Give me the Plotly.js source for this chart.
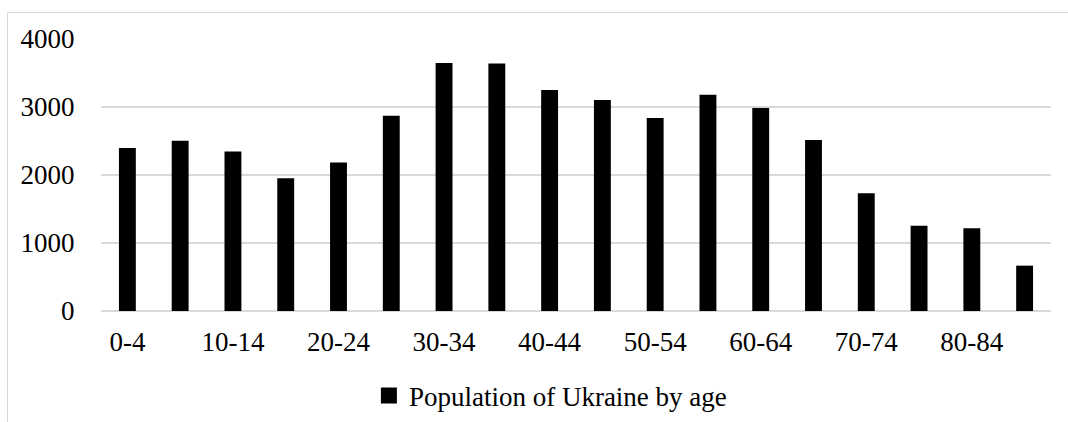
<!DOCTYPE html>
<html>
<head>
<meta charset="utf-8">
<script src="https://cdn.plot.ly/plotly-3.0.1.min.js"></script>
<style>
  html, body { margin: 0; padding: 0; background: #fff; overflow: hidden; }
  #chart { width: 1068px; height: 422px; position: relative; }
  #frame { position: absolute; left: 7px; top: 12px; width: 1200px; height: 600px;
           border: 1px solid #d9d9d9; pointer-events: none; }
</style>
</head>
<body>
<div id="chart"></div>
<div id="frame"></div>
<script>
const ageGroups = ["0-4","5-9","10-14","15-19","20-24","25-29","30-34","35-39","40-44",
                   "45-49","50-54","55-59","60-64","65-69","70-74","75-79","80-84","85+"];
const population = [2396, 2504, 2346, 1954, 2184, 2872, 3648, 3638, 3250,
                    3103, 2838, 3181, 2985, 2514, 1733, 1252, 1218, 667];
const seriesName = "Population of Ukraine by age";
const shownTicks = ageGroups.filter((_, i) => i % 2 === 0);

const font = { family: "Liberation Serif", size: 27, color: "#000" };

Plotly.newPlot("chart", [{
  type: "bar",
  x: ageGroups,
  y: population,
  name: seriesName,
  marker: { color: "#000" },
  showlegend: false,
  hoverinfo: "x+y"
}, {
  type: "scatter",
  mode: "markers",
  x: [null], y: [null],
  name: seriesName,
  marker: { color: "#000", symbol: "square", size: 16 },
  showlegend: true
}], {
  width: 1068, height: 422,
  margin: { l: 101, r: 17, t: 39, b: 111, pad: 0, autoexpand: false },
  paper_bgcolor: "#fff", plot_bgcolor: "#fff",
  font: font,
  bargap: 0.68,
  xaxis: {
    type: "category",
    categoryorder: "array", categoryarray: ageGroups,
    tickmode: "array",
    tickvals: shownTicks,
    ticktext: shownTicks,
    range: [-0.5, ageGroups.length - 0.5],
    ticks: "outside", ticklen: 7, tickcolor: "rgba(0,0,0,0)",
    showgrid: false, showline: false, zeroline: false,
    tickfont: font
  },
  yaxis: {
    range: [0, 4000],
    tickvals: [0, 1000, 2000, 3000, 4000],
    ticks: "outside", ticklen: 20, tickcolor: "rgba(0,0,0,0)",
    showgrid: true, gridcolor: "#d9d9d9", gridwidth: 2,
    zeroline: true, zerolinecolor: "#d9d9d9", zerolinewidth: 2,
    showline: false,
    tickfont: font
  },
  showlegend: true,
  legend: {
    orientation: "h", x: 0.282, xanchor: "left",
    yref: "container", y: 0.062, yanchor: "middle",
    font: font, itemwidth: 30
  }
}, { displayModeBar: false, staticPlot: true });
</script>
</body>
</html>
